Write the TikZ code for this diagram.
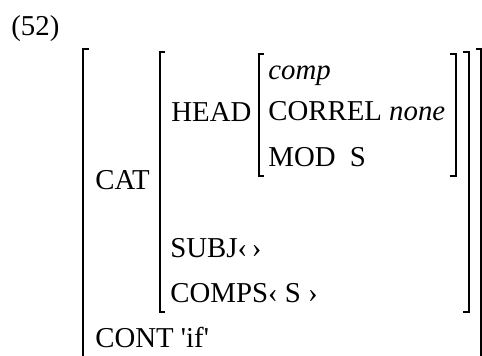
\documentclass[tikz,border=0pt]{standalone}
\usepackage{fontspec}
\setmainfont{Liberation Serif}
\usetikzlibrary{positioning}

\begin{document}
\begin{tikzpicture}[
		x=.5pt, y=-.5pt,
		every node/.append style={
			inner sep=0pt,
			anchor=base west,
			font=\fontsize{14.4}{17}\selectfont,
		},
		brack/.style={line width=.7pt},
	]
	\useasboundingbox (0,0) rectangle (482,356);
	\node (exnum) at (11,36) {(52)};
	% outer matrix
	\node (cat) at (95,190) {CAT};
	\node (cont) at (95,348) {CONT \textquotesingle if\textquotesingle};
	% value of CAT
	\node (head) at (171,122) {HEAD};
	\node (subj) at (170,258) {SUBJ‹\,›};
	\node (comps) at (170,303) {COMPS‹ S ›};
	% value of HEAD
	\node (comp) at (268,80) {\textit{comp}};
	\node (correl) at (268,121) {CORREL \textit{none}};
	\node (mod) at (268,167) {MOD\enspace S};
	% draw the brackets
	\draw[brack] (89,49) -- (83,49) -- (83,356);
	\draw[brack] (476,49) -- (481,49) -- (481,356);
	\draw[brack] (165,52) -- (160,52) -- (160,312) -- (165,312);
	\draw[brack] (463,52) -- (469,52) -- (469,312) -- (463,312);
	\draw[brack] (264,54) -- (259,54) -- (259,176) -- (264,176);
	\draw[brack] (450,54) -- (456,54) -- (456,176) -- (450,176);
\end{tikzpicture}
\end{document}
